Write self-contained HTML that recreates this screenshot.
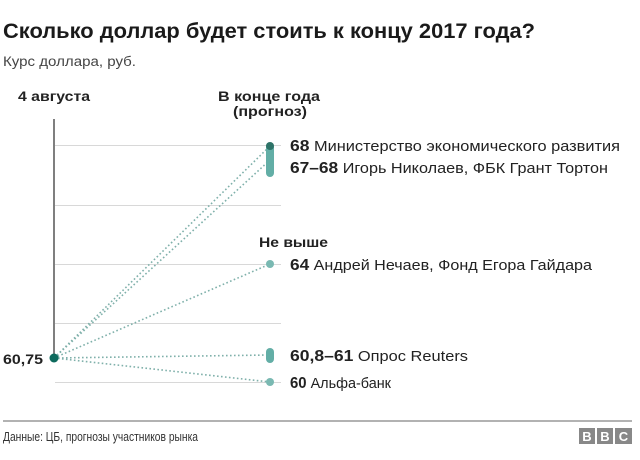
<!DOCTYPE html>
<html><head><meta charset="utf-8"><style>
html,body{margin:0;padding:0;background:#fff;}
svg{display:block;font-family:"Liberation Sans",Arial,sans-serif;}
</style></head><body>
<svg width="640" height="460" viewBox="0 0 640 460" xmlns="http://www.w3.org/2000/svg">
<text x="3" y="38" font-size="21" font-weight="bold" fill="#1a1a1a" textLength="532" lengthAdjust="spacingAndGlyphs">Сколько доллар будет стоить к концу 2017 года?</text>
<text x="3" y="66" font-size="13.5" fill="#444" textLength="133" lengthAdjust="spacingAndGlyphs">Курс доллара, руб.</text>
<text x="18" y="101" font-size="14" font-weight="bold" fill="#222" textLength="72" lengthAdjust="spacingAndGlyphs">4 августа</text>
<text x="218" y="101" font-size="14" font-weight="bold" fill="#222" textLength="102" lengthAdjust="spacingAndGlyphs">В конце года</text>
<text x="233" y="116" font-size="14" font-weight="bold" fill="#222" textLength="74" lengthAdjust="spacingAndGlyphs">(прогноз)</text>
<g stroke="#d8d8d8" stroke-width="1">
<line x1="55" y1="145.5" x2="281" y2="145.5"/>
<line x1="55" y1="205.5" x2="281" y2="205.5"/>
<line x1="55" y1="264.5" x2="281" y2="264.5"/>
<line x1="55" y1="323.5" x2="281" y2="323.5"/>
<line x1="55" y1="382.5" x2="281" y2="382.5"/>
</g>
<line x1="54" y1="119" x2="54" y2="358" stroke="#555" stroke-width="1.5"/>
<g stroke="#7fb0aa" stroke-width="1.6" stroke-dasharray="1.6 2.4" fill="none">
<line x1="54" y1="358" x2="270" y2="146"/>
<line x1="54" y1="358" x2="270" y2="160"/>
<line x1="54" y1="358" x2="270" y2="264"/>
<line x1="54" y1="358" x2="270" y2="355"/>
<line x1="54" y1="358" x2="270" y2="382"/>
</g>
<rect x="266" y="143" width="8" height="34" rx="4" fill="#63aea6"/>
<circle cx="270" cy="146" r="4" fill="#2e7368"/>
<circle cx="270" cy="264" r="4" fill="#7ab9b2"/>
<rect x="266" y="348" width="8" height="15" rx="4" fill="#63aea6"/>
<circle cx="270" cy="382" r="4" fill="#7ab9b2"/>
<circle cx="54" cy="358" r="4.5" fill="#0d6a5d"/>
<text x="3" y="364" font-size="14" font-weight="bold" fill="#222" textLength="40" lengthAdjust="spacingAndGlyphs">60,75</text>
<g font-size="14.5" fill="#222">
<text x="290" y="151" textLength="330" lengthAdjust="spacingAndGlyphs"><tspan font-weight="bold" font-size="15.5">68</tspan>  Министерство экономического развития</text>
<text x="290" y="173" textLength="318" lengthAdjust="spacingAndGlyphs"><tspan font-weight="bold" font-size="15.5">67–68</tspan>  Игорь Николаев, ФБК Грант Тортон</text>
<text x="259" y="247" font-weight="bold" font-size="14" textLength="69" lengthAdjust="spacingAndGlyphs">Не выше</text>
<text x="290" y="270" textLength="302" lengthAdjust="spacingAndGlyphs"><tspan font-weight="bold" font-size="15.5">64</tspan>  Андрей Нечаев, Фонд Егора Гайдара</text>
<text x="290" y="361" textLength="178" lengthAdjust="spacingAndGlyphs"><tspan font-weight="bold" font-size="15.5">60,8–61</tspan>  Опрос Reuters</text>
<text x="290" y="388" font-size="15" textLength="101" lengthAdjust="spacingAndGlyphs"><tspan font-weight="bold" font-size="15.5">60</tspan>  Альфа-банк</text>
</g>
<line x1="3" y1="421" x2="632" y2="421" stroke="#666" stroke-width="1"/>
<text x="3" y="441" font-size="12.5" fill="#333" textLength="195" lengthAdjust="spacingAndGlyphs">Данные: ЦБ, прогнозы участников рынка</text>
<g fill="#888">
<rect x="579" y="428" width="16" height="16"/>
<rect x="597" y="428" width="16" height="16"/>
<rect x="615" y="428" width="17" height="16"/>
</g>
<g fill="#fff" font-size="13" font-weight="bold" text-anchor="middle">
<text x="587" y="441">B</text><text x="605" y="441">B</text><text x="623.5" y="441">C</text>
</g>
</svg>
</body></html>
